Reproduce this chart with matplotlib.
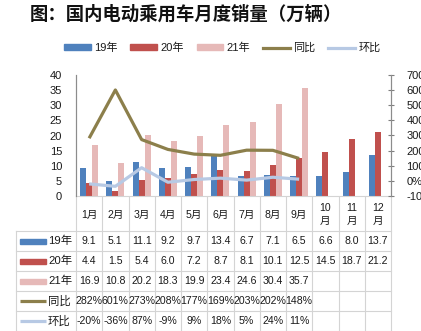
import matplotlib.pyplot as plt
import numpy as np
from matplotlib.patches import Rectangle
from matplotlib.lines import Line2D

plt.rcParams["font.family"] = ["Liberation Sans", "Noto Sans CJK SC", "DejaVu Sans"]

months = ["1月", "2月", "3月", "4月", "5月", "6月", "7月", "8月", "9月", "10\n月", "11\n月", "12\n月"]
sales_19 = [9.1, 5.1, 11.1, 9.2, 9.7, 13.4, 6.7, 7.1, 6.5, 6.6, 8.0, 13.7]
sales_20 = [4.4, 1.5, 5.4, 6.0, 7.2, 8.7, 8.1, 10.1, 12.5, 14.5, 18.7, 21.2]
sales_21 = [16.9, 10.8, 20.2, 18.3, 19.9, 23.4, 24.6, 30.4, 35.7]
yoy = [282, 601, 273, 208, 177, 169, 203, 202, 148]
mom = [-20, -36, 87, -9, 9, 18, 5, 24, 11]

c19, c20, c21 = "#4F81BD", "#C0504D", "#E6B9B8"
c_yoy, c_mom = "#8C7F4B", "#B7C9E4"
txt = "#1A1A1A"
grid = "#D4D4D4"

W, H = 421, 331
fig = plt.figure(figsize=(W / 100, H / 100), dpi=100)

L, R, T, B = 76, 391, 75, 196
ax = fig.add_axes([L / W, 1 - B / H, (R - L) / W, (B - T) / H])
ax2 = ax.twinx()

x = np.arange(12)
bw = 0.23
ax.bar(x - bw, sales_19, bw, color=c19)
ax.bar(x, sales_20, bw, color=c20)
ax.bar(x[:len(sales_21)] + bw, sales_21, bw, color=c21)
ax.set_xlim(-0.5, 11.5)
ax.set_ylim(0, 40)
ax.set_yticks(range(0, 41, 5))
ax.set_xticks([])
ax.tick_params(axis="y", length=0, pad=10, labelsize=8, labelcolor=txt)

ax2.plot(x[:len(yoy)], yoy, color=c_yoy, lw=2.3, solid_capstyle="butt")
ax2.plot(x[:len(mom)], mom, color=c_mom, lw=2.3, solid_capstyle="butt")
ax2.set_ylim(-100, 700)
ax2.set_yticks(range(-100, 701, 100))
ax2.set_yticklabels([f"{v}%" for v in range(-100, 701, 100)])
ax2.tick_params(axis="y", direction="inout", length=4, pad=9, labelsize=8,
                labelcolor=txt, color="#7F7F7F")

for a in (ax, ax2):
    a.spines["top"].set_visible(False)
    for s in ("left", "right", "bottom"):
        a.spines[s].set_color("#8C8C8C")
ax.spines["bottom"].set_color(grid)
ax2.spines["bottom"].set_visible(False)

fig.text(30 / W, 1 - 14 / H, "图：国内电动乘用车月度销量（万辆）",
         fontsize=13.2, fontweight="bold", va="center", ha="left",
         family=["Noto Sans CJK SC"], color="#111111")

handles = [
    Rectangle((0, 0), 1, 1, color=c19),
    Rectangle((0, 0), 1, 1, color=c20),
    Rectangle((0, 0), 1, 1, color=c21),
    Line2D([], [], color=c_yoy, lw=2.3),
    Line2D([], [], color=c_mom, lw=2.3),
]
fig.legend(handles, ["19年", "20年", "21年", "同比", "环比"], ncol=5,
           loc="center", bbox_to_anchor=(0.528, 1 - 48 / H), frameon=False,
           fontsize=8, handlelength=2.4, handleheight=0.45, handletextpad=0.3,
           columnspacing=1.15, labelcolor=txt)

# data table below the chart
ov = fig.add_axes([0, 0, 1, 1], zorder=-1)
ov.set_xlim(0, W)
ov.set_ylim(H, 0)
ov.axis("off")

cw = (R - L) / 12
row_y = [B, 231, 251, 271, 291, 311, 331]
tl = 16
fs = 7.6

for i in range(13):
    xi = L + i * cw
    ov.plot([xi, xi], [B, H], color=grid, lw=0.8)
ov.plot([tl, tl], [row_y[1], H], color=grid, lw=0.8)
for yy in row_y[1:]:
    ov.plot([tl, R], [yy, yy], color=grid, lw=0.8)

for i, m in enumerate(months):
    ov.text(L + (i + 0.5) * cw, (row_y[0] + row_y[1]) / 2 + 1, m,
            ha="center", va="center", fontsize=fs, color=txt, linespacing=1.3)

rows = [
    ("19年", [f"{v:.1f}" for v in sales_19], "bar", c19),
    ("20年", [f"{v:.1f}" for v in sales_20], "bar", c20),
    ("21年", [f"{v:.1f}" for v in sales_21], "bar", c21),
    ("同比", [f"{v}%" for v in yoy], "line", c_yoy),
    ("环比", [f"{v}%" for v in mom], "line", c_mom),
]
for r, (name, vals, kind, col) in enumerate(rows):
    yc = (row_y[r + 1] + row_y[r + 2]) / 2
    if kind == "bar":
        ov.add_patch(Rectangle((20, yc - 2.5), 26, 5, color=col))
    else:
        ov.plot([20, 46], [yc, yc], color=col, lw=2.3, solid_capstyle="butt")
    ov.text(48, yc, name, ha="left", va="center", fontsize=fs + 0.6, color=txt)
    for i, v in enumerate(vals):
        ov.text(L + (i + 0.5) * cw, yc, v, ha="center", va="center",
                fontsize=fs, color=txt)

plt.savefig("out.png", dpi=100)
